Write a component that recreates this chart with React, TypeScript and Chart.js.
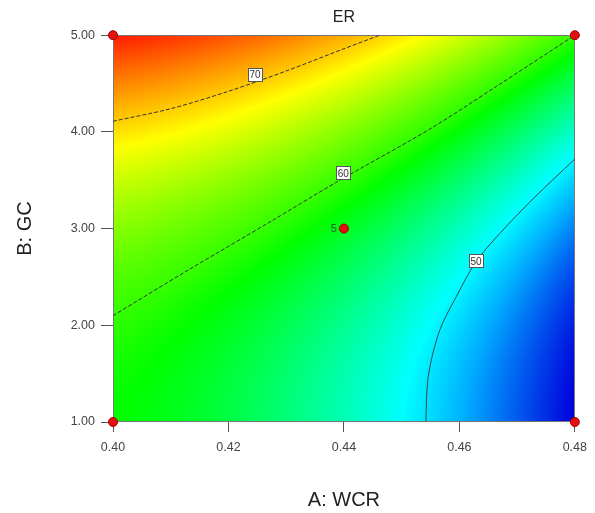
import React, { useEffect, useRef } from 'react';
import { Chart, registerables } from 'chart.js';

Chart.register(...registerables);

// Response grid (ER at A: WCR × B: GC)
const GRID_A = [0.40, 0.42, 0.44, 0.46, 0.48];
const GRID_B = [1, 2, 3, 4, 5];
const ER_B1 = [58.5, 56.3, 52.7, 47.9, 41.8];
const ER_B2 = [59.8, 57.5, 53.9, 49.1, 42.9];
const ER_B3 = [63.3, 61.0, 57.4, 52.5, 46.3];
const ER_B4 = [69.2, 66.9, 63.2, 58.2, 52.0];
const ER_B5 = [77.4, 75.0, 71.3, 66.3, 60.0];
const ER_ROWS = [ER_B1, ER_B2, ER_B3, ER_B4, ER_B5];

const X_TICKS = [0.40, 0.42, 0.44, 0.46, 0.48];
const Y_TICKS = [1, 2, 3, 4, 5];

// Design points
const DESIGN_A = [0.40, 0.40, 0.48, 0.48, 0.44];
const DESIGN_B = [1, 5, 1, 5, 3];
const DESIGN_REPS = [1, 1, 1, 1, 5];

// Contour lines
const C70_A = [0.400, 0.410, 0.420, 0.430, 0.440, 0.4462];
const C70_B = [4.11, 4.24, 4.42, 4.63, 4.86, 5.00];
const C60_A = [0.400, 0.413, 0.4275, 0.439, 0.4549, 0.4664, 0.480];
const C60_B = [2.10, 2.57, 3.08, 3.49, 4.03, 4.47, 5.00];
const C50_A = [0.4542, 0.4546, 0.4566, 0.4595, 0.4629, 0.4670, 0.4728, 0.4800];
const C50_B = [1.00, 1.47, 1.95, 2.30, 2.66, 2.95, 3.31, 3.72];

const LABEL_TEXT = ['70', '60', '50'];
const LABEL_A = [0.4246, 0.4399, 0.4629];
const LABEL_B = [4.59, 3.57, 2.66];

// colour scale (value -> hue), style only
const HUE_VALUES = [41.8, 50, 60, 70, 77.4];
const HUE_DEGREES = [240, 183, 108, 48, 6];

const FONT = '"Liberation Sans", Arial, sans-serif';

function lagrange(nodes: number[], t: number): number[] {
  return nodes.map((nj, j) => {
    let w = 1;
    nodes.forEach((nk, k) => {
      if (k !== j) w *= (t - nk) / (nj - nk);
    });
    return w;
  });
}

function hueFor(v: number): number {
  if (v <= HUE_VALUES[0]) return HUE_DEGREES[0];
  for (let i = 1; i < HUE_VALUES.length; i++) {
    if (v <= HUE_VALUES[i]) {
      const f = (v - HUE_VALUES[i - 1]) / (HUE_VALUES[i] - HUE_VALUES[i - 1]);
      return HUE_DEGREES[i - 1] + f * (HUE_DEGREES[i] - HUE_DEGREES[i - 1]);
    }
  }
  return HUE_DEGREES[HUE_DEGREES.length - 1];
}

function colorFor(v: number): [number, number, number] {
  const h = Math.max(0, Math.min(240, hueFor(v)));
  const s = h / 60;
  const i = Math.min(3, Math.floor(s));
  const f = s - i;
  let r = 0, g = 0, b = 0;
  switch (i) {
    case 0: r = 1; g = f; b = 0; break;
    case 1: r = 1 - f; g = 1; b = 0; break;
    case 2: r = 0; g = 1; b = f; break;
    default: r = 0; g = 1 - f; b = 1; break;
  }
  const dark = h > 200 ? 1 - 0.14 * (h - 200) / 40 : 1;
  return [Math.round(r * 255 * dark), Math.round(g * 255 * dark), Math.round(b * 255 * dark)];
}

const surfacePlugin = {
  id: 'surface',
  beforeDatasetsDraw(chart: any) {
    const { ctx, chartArea, scales } = chart;
    const xs = scales.x;
    const ys = scales.y;
    const left = Math.round(chartArea.left);
    const top = Math.round(chartArea.top);
    const w = Math.round(chartArea.right) - left;
    const h = Math.round(chartArea.bottom) - top;
    const off = document.createElement('canvas');
    off.width = w;
    off.height = h;
    const octx = off.getContext('2d')!;
    const img = octx.createImageData(w, h);
    const wx: number[][] = [];
    for (let i = 0; i < w; i++) wx.push(lagrange(GRID_A, xs.getValueForPixel(left + i + 0.5)));
    for (let j = 0; j < h; j++) {
      const wy = lagrange(GRID_B, ys.getValueForPixel(top + j + 0.5));
      const rowVal = GRID_A.map((_, k) => ER_ROWS.reduce((acc, row, r) => acc + wy[r] * row[k], 0));
      for (let i = 0; i < w; i++) {
        let v = 0;
        for (let k = 0; k < rowVal.length; k++) v += wx[i][k] * rowVal[k];
        const [r, g, b] = colorFor(v);
        const p = (j * w + i) * 4;
        img.data[p] = r;
        img.data[p + 1] = g;
        img.data[p + 2] = b;
        img.data[p + 3] = 255;
      }
    }
    octx.putImageData(img, 0, 0);
    ctx.save();
    ctx.drawImage(off, left, top, w, h);
    ctx.strokeStyle = '#767676';
    ctx.lineWidth = 1;
    ctx.strokeRect(left + 0.5, top + 0.5, w - 1, h - 1);
    ctx.restore();
  },
  afterDatasetsDraw(chart: any) {
    const { ctx, scales } = chart;
    const xs = scales.x;
    const ys = scales.y;
    ctx.save();
    ctx.font = `10px ${FONT}`;
    ctx.textAlign = 'center';
    ctx.textBaseline = 'middle';
    LABEL_TEXT.forEach((txt, i) => {
      const px = xs.getPixelForValue(LABEL_A[i]);
      const py = ys.getPixelForValue(LABEL_B[i]);
      const bw = 15, bh = 14;
      ctx.fillStyle = '#ffffff';
      ctx.fillRect(Math.round(px - bw / 2), Math.round(py - bh / 2), bw, bh);
      ctx.strokeStyle = '#555555';
      ctx.lineWidth = 1;
      ctx.strokeRect(Math.round(px - bw / 2) + 0.5, Math.round(py - bh / 2) + 0.5, bw - 1, bh - 1);
      ctx.fillStyle = '#333333';
      ctx.fillText(txt, px, py + 0.5);
    });
    ctx.font = `11px ${FONT}`;
    ctx.textAlign = 'right';
    ctx.fillStyle = '#3a4a3a';
    DESIGN_REPS.forEach((n, i) => {
      if (n > 1) {
        const px = xs.getPixelForValue(DESIGN_A[i]);
        const py = ys.getPixelForValue(DESIGN_B[i]);
        ctx.fillText(String(n), px - 7, py);
      }
    });
    ctx.restore();
  },
};

const toPts = (a: number[], b: number[]) => a.map((x, i) => ({ x, y: b[i] }));

export default function App() {
  const ref = useRef<HTMLCanvasElement>(null);
  useEffect(() => {
    if (!ref.current) return;
    const lineDs = (label: string, a: number[], b: number[], color: string, dash: number[]) => ({
      label,
      data: toPts(a, b),
      showLine: true,
      borderColor: color,
      borderWidth: 1,
      borderDash: dash,
      pointRadius: 0,
      tension: 0.3,
      fill: false,
    });
    const chart = new Chart(ref.current, {
      type: 'scatter',
      data: {
        datasets: [
          {
            label: 'Design points',
            data: toPts(DESIGN_A, DESIGN_B),
            pointRadius: 4.5,
            pointBackgroundColor: '#e31010',
            pointBorderColor: '#a00000',
            pointBorderWidth: 1,
            showLine: false,
            clip: false,
          } as any,
          lineDs('70', C70_A, C70_B, '#333333', [4, 2]),
          lineDs('60', C60_A, C60_B, '#333333', [4, 2]),
          lineDs('50', C50_A, C50_B, '#2e4a4e', []),
        ],
      },
      options: {
        animation: false,
        responsive: true,
        maintainAspectRatio: false,
        events: [],
        layout: { padding: { left: 0, right: 20, top: 0, bottom: 0 } },
        plugins: {
          legend: { display: false },
          tooltip: { enabled: false },
          title: {
            display: true,
            fullSize: false,
            text: 'ER',
            color: '#222222',
            font: { family: FONT, size: 16, weight: 'normal', lineHeight: 1.2 },
            padding: { top: 8, bottom: 8 },
          },
        },
        scales: {
          x: {
            type: 'linear',
            min: 0.40,
            max: 0.48,
            afterBuildTicks: (s: any) => { s.ticks = X_TICKS.map((v) => ({ value: v })); },
            afterFit: (s: any) => { s.height = 91; },
            ticks: {
              color: '#444444',
              font: { family: FONT, size: 12.5, lineHeight: 1.2 },
              padding: 8,
              maxRotation: 0,
              callback: (v: any) => Number(v).toFixed(2),
            },
            grid: { drawOnChartArea: false, drawTicks: true, tickLength: 10, tickColor: '#555555' },
            border: { display: false },
            title: {
              display: true,
              text: 'A: WCR',
              color: '#222222',
              font: { family: FONT, size: 20, lineHeight: 1.2 },
              padding: { top: 0, bottom: 1 },
            },
          },
          y: {
            type: 'linear',
            min: 1,
            max: 5,
            afterBuildTicks: (s: any) => { s.ticks = Y_TICKS.map((v) => ({ value: v })); },
            afterFit: (s: any) => { s.width = 113; },
            ticks: {
              color: '#444444',
              font: { family: FONT, size: 12.5, lineHeight: 1.2 },
              padding: 6,
              callback: (v: any) => Number(v).toFixed(2),
            },
            grid: { drawOnChartArea: false, drawTicks: true, tickLength: 12, tickColor: '#555555' },
            border: { display: false },
            title: {
              display: true,
              text: 'B: GC',
              color: '#222222',
              font: { family: FONT, size: 20, lineHeight: 1.2 },
              padding: { top: 13, bottom: 0 },
            },
          },
        },
      },
      plugins: [surfacePlugin],
    } as any);
    return () => chart.destroy();
  }, []);
  return (
    <div style={{ position: 'fixed', left: 0, top: 0, width: 595, height: 513, background: '#ffffff' }}>
      <canvas ref={ref} />
    </div>
  );
}
